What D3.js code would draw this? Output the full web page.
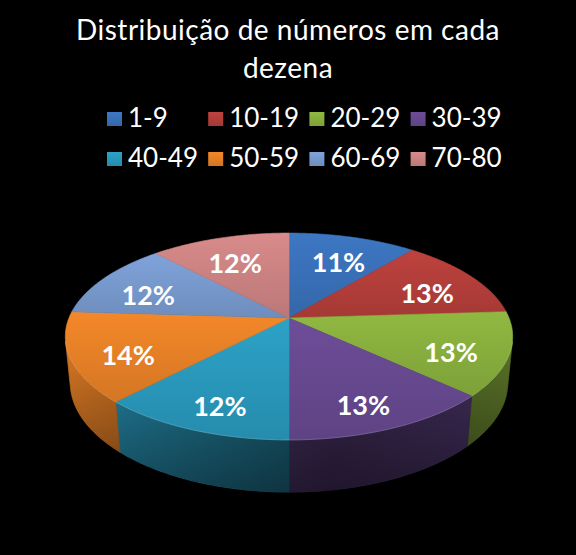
<!DOCTYPE html>
<html>
<head>
<meta charset="utf-8">
<script src="https://cdn.jsdelivr.net/npm/d3@7"></script>
<style>
  body { margin: 0; background: #000; }
  svg { display: block; }
</style>
</head>
<body>
<div id="chart"></div>
<script>
// dados do gráfico
const faixas = ["1-9", "10-19", "20-29", "30-39", "40-49", "50-59", "60-69", "70-80"];
const percentuais = [11, 13, 13, 13, 12, 14, 12, 12];
const cores = ["#3a72bb", "#b63f3b", "#8ab13e", "#684a92", "#2a9bbf", "#ea8227", "#7a9cd1", "#cf8584"];
const titulo = ["Distribuição de números em cada", "dezena"];

const width = 576, height = 555;
const font = "Lato, 'Open Sans', sans-serif";

const svg = d3.select("#chart").append("svg")
    .attr("width", width)
    .attr("height", height);

svg.append("rect").attr("width", width).attr("height", height).attr("fill", "#000");

const defs = svg.append("defs");

// perspective projection of the pie (radius 1, thickness H)
const cx = 289, cy = 318;
const D = 4.98, F = 1096, sinE = 0.455, cosE = 0.89, H = 0.238;
function proj(a, r, yw) {
    const X = r * Math.sin(a), Z = r * Math.cos(a);
    const depth = D + Z * cosE - yw * sinE;
    return [cx + F * X / depth, cy - F * (yw * cosE + Z * sinE) / depth];
}
function arcPts(a0, a1, r, yw) {
    const n = Math.max(2, Math.ceil(Math.abs(a1 - a0) / 0.01));
    return d3.range(n + 1).map(i => proj(a0 + (a1 - a0) * i / n, r, yw));
}

// visible part of the outer wall
const cosLim = -1 / (D * cosE);
const wallMin = Math.acos(cosLim), wallMax = 2 * Math.PI - wallMin;

const pie = d3.pie().sort(null).value(d => d)(percentuais);

// gradients
const left = proj(-Math.PI / 2, 1, 0)[0], right = proj(Math.PI / 2, 1, 0)[0];
pie.forEach((p, i) => {
    const c = d3.color(cores[i]);
    const gt = defs.append("linearGradient").attr("id", "top" + i)
        .attr("x1", 0).attr("y1", 0).attr("x2", 0).attr("y2", 1);
    gt.append("stop").attr("offset", 0).attr("stop-color", c.brighter(0.12));
    gt.append("stop").attr("offset", 1).attr("stop-color", c.darker(0.28));

    const gs = defs.append("linearGradient").attr("id", "side" + i)
        .attr("gradientUnits", "userSpaceOnUse")
        .attr("x1", left).attr("y1", 0).attr("x2", right).attr("y2", 0);
    gs.append("stop").attr("offset", 0).attr("stop-color", c.darker(0.2));
    gs.append("stop").attr("offset", 0.6).attr("stop-color", c.darker(1.7));
    gs.append("stop").attr("offset", 1).attr("stop-color", c.darker(1.2));
});
const gw = defs.append("linearGradient").attr("id", "wallShade")
    .attr("x1", 0).attr("y1", 0).attr("x2", 0).attr("y2", 1);
gw.append("stop").attr("offset", 0).attr("stop-color", "#000").attr("stop-opacity", 0);
gw.append("stop").attr("offset", 1).attr("stop-color", "#000").attr("stop-opacity", 0.45);

const line = d3.line();
const g = svg.append("g");

// side walls
pie.forEach((p, i) => {
    const a0 = Math.max(p.startAngle, wallMin), a1 = Math.min(p.endAngle, wallMax);
    if (a0 >= a1) return;
    const pts = arcPts(a0, a1, 1, 0).concat(arcPts(a1, a0, 1, -H));
    g.append("path")
        .attr("d", line(pts) + "Z")
        .attr("fill", `url(#side${i})`)
        .attr("stroke", `url(#side${i})`)
        .attr("stroke-width", 0.6);
});
g.append("path")
    .attr("d", line(arcPts(wallMin, wallMax, 1, 0).concat(arcPts(wallMax, wallMin, 1, -H))) + "Z")
    .attr("fill", "url(#wallShade)");

// top faces
pie.forEach((p, i) => {
    const pts = [proj(0, 0, 0)].concat(arcPts(p.startAngle, p.endAngle, 1, 0));
    g.append("path")
        .attr("d", line(pts) + "Z")
        .attr("fill", `url(#top${i})`)
        .attr("stroke", `url(#top${i})`)
        .attr("stroke-width", 0.6);
});

// light rim on the front edge
g.append("path")
    .attr("d", line(arcPts(wallMin, wallMax, 1, 0)))
    .attr("fill", "none")
    .attr("stroke", "#fff")
    .attr("stroke-opacity", 0.18)
    .attr("stroke-width", 1);

// data labels
pie.forEach((p, i) => {
    const pos = proj((p.startAngle + p.endAngle) / 2, 0.75, -0.04);
    g.append("text")
        .attr("x", pos[0])
        .attr("y", pos[1])
        .attr("dy", "0.36em")
        .attr("text-anchor", "middle")
        .attr("fill", "#fff")
        .style("font-family", font)
        .style("font-weight", "bold")
        .style("font-size", "27px")
        .text(percentuais[i] + "%");
});

// title
svg.append("g").selectAll("text")
    .data(titulo)
    .join("text")
    .attr("x", 288)
    .attr("y", (d, i) => 40 + i * 38)
    .attr("text-anchor", "middle")
    .attr("fill", "#fff")
    .style("font-family", font)
    .style("font-size", "28px")
    .style("letter-spacing", "0.5px")
    .text(d => d);

// legend: 4 columns, 2 rows
const legend = svg.append("g").selectAll("g")
    .data(faixas)
    .join("g")
    .attr("transform", (d, i) => `translate(${107 + (i % 4) * 101.2},${127 + Math.floor(i / 4) * 40})`);
legend.append("rect")
    .attr("x", 0).attr("y", -15)
    .attr("width", 15).attr("height", 14)
    .attr("fill", (d, i) => `url(#top${i})`);
legend.append("text")
    .attr("x", 21)
    .attr("y", 0)
    .attr("fill", "#fff")
    .style("font-family", font)
    .style("font-size", "26px")
    .text(d => d);
</script>
</body>
</html>
